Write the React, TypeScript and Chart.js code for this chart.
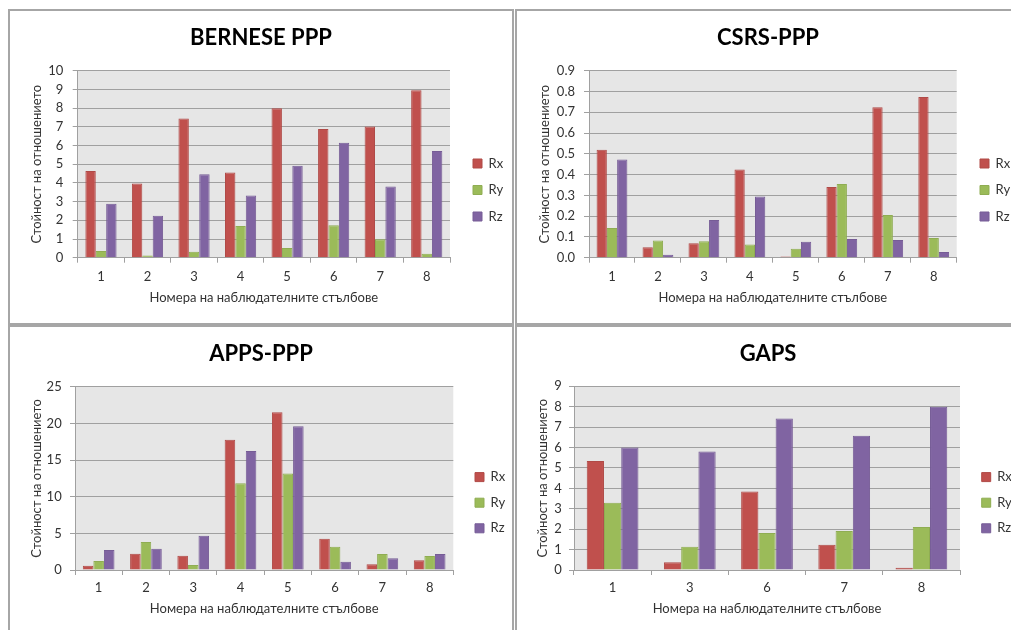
import React, { useEffect, useRef } from "react";
import { Chart, registerables } from "chart.js";
Chart.register(...registerables);

const FONT = "Lato, 'Open Sans', 'DejaVu Sans', sans-serif";

const seriesNames = ["Rx", "Ry", "Rz"];
const seriesColors = ["#C0504D", "#9BBB59", "#8064A2"];
const seriesBorders = ["#B04A47", "#8FAD52", "#765C96"];

const yAxisTitle = "Стойност на отношението";
const xAxisTitle = "Номера на наблюдателните стълбове";

// BERNESE PPP
const berneseLabels = ["1", "2", "3", "4", "5", "6", "7", "8"];
const berneseRx = [4.63, 3.97, 7.45, 4.56, 7.99, 6.88, 7.02, 8.95];
const berneseRy = [0.36, 0.12, 0.32, 1.69, 0.52, 1.73, 0.98, 0.21];
const berneseRz = [2.89, 2.25, 4.46, 3.33, 4.92, 6.15, 3.81, 5.7];

// CSRS-PPP
const csrsLabels = ["1", "2", "3", "4", "5", "6", "7", "8"];
const csrsRx = [0.52, 0.05, 0.07, 0.424, 0.006, 0.34, 0.724, 0.773];
const csrsRy = [0.143, 0.083, 0.079, 0.063, 0.043, 0.355, 0.205, 0.095];
const csrsRz = [0.473, 0.014, 0.181, 0.294, 0.077, 0.09, 0.085, 0.027];

// APPS-PPP
const appsLabels = ["1", "2", "3", "4", "5", "6", "7", "8"];
const appsRx = [0.59, 2.22, 1.95, 17.78, 21.5, 4.26, 0.77, 1.32];
const appsRy = [1.22, 3.81, 0.68, 11.84, 13.15, 3.17, 2.18, 1.9];
const appsRz = [2.72, 2.9, 4.67, 16.24, 19.6, 1.13, 1.59, 2.18];

// GAPS
const gapsLabels = ["1", "3", "6", "7", "8"];
const gapsRx = [5.34, 0.38, 3.84, 1.24, 0.11];
const gapsRy = [3.3, 1.14, 1.81, 1.91, 2.11];
const gapsRz = [6.0, 5.8, 7.42, 6.58, 8.0];

type Geo = {
  left: number; top: number; width: number; height: number; padL: number;
  plotLeft: number; plotRight: number; plotTop: number; plotBottom: number;
  titleY: number; yTitleX: number; yLabelRight: number; xTickY: number; xTitleY: number;
  legendX: number; legendMidY: number; legendStep: number;
};

type PanelProps = {
  g: Geo; title: string; labels: string[]; rx: number[]; ry: number[]; rz: number[];
  yMax: number; yStep: number; decimals: number;
};

function Panel({ g, title, labels, rx, ry, rz, yMax, yStep, decimals }: PanelProps) {
  const ref = useRef<HTMLCanvasElement>(null);
  useEffect(() => {
    const canvas = ref.current!;
    const FS = 13;
    const LH = FS * 1.2;
    const TS = 22;
    const TLH = TS * 1.2;
    const tPadTop = g.titleY - TLH / 2;
    const tPadBot = g.plotTop - tPadTop - TLH;
    const lgPad = g.legendStep - FS;
    const legendW = g.width - g.plotRight;
    const tickLen = 5;
    const plugin: any = {
      id: "panelFix",
      beforeLayout(chart: any) {
        const lg = chart.legend;
        if (lg && !lg.__patched) {
          const orig = lg.fit;
          lg.fit = function () {
            orig.call(this);
            this.width = legendW;
          };
          lg.__patched = true;
        }
      },
      afterLayout(chart: any) {
        const lg = chart.legend;
        if (!lg) return;
        const w = lg.width;
        const h = lg.height;
        lg.left = g.legendX - lgPad;
        lg.right = lg.left + w;
        const colH = lg.columnSizes && lg.columnSizes[0] ? lg.columnSizes[0].height : 3 * (FS + lgPad);
        const targetY0 = g.legendMidY - (FS + lgPad) - FS / 2;
        const top = (2 * targetY0 - lgPad + colH - h) / 2;
        lg.top = top;
        lg.bottom = top + h;
      },
      beforeDraw(chart: any) {
        const a = chart.chartArea;
        const ctx = chart.ctx;
        ctx.save();
        ctx.fillStyle = "#E6E6E6";
        ctx.fillRect(a.left, a.top, a.right - a.left, a.bottom - a.top);
        ctx.restore();
      },
    };
    const values = [rx, ry, rz];
    const chart = new Chart(canvas, {
      type: "bar",
      data: {
        labels,
        datasets: seriesNames.map((n, i) => ({
          label: n,
          data: values[i],
          backgroundColor: seriesColors[i],
          borderColor: seriesBorders[i],
          borderWidth: 1,
          categoryPercentage: 0.67,
          barPercentage: 1,
        })),
      },
      options: {
        animation: false,
        responsive: false,
        maintainAspectRatio: false,
        events: [],
        layout: { padding: { left: g.padL, right: 0, top: 0, bottom: 0 } },
        font: { family: FONT },
        plugins: {
          tooltip: { enabled: false },
          title: {
            display: true,
            text: title,
            color: "#000",
            font: { family: FONT, size: TS, weight: "bold" },
            padding: { top: tPadTop, bottom: tPadBot },
          },
          legend: {
            display: true,
            position: "right",
            labels: {
              boxWidth: 9,
              boxHeight: 9,
              padding: lgPad,
              color: "#333",
              font: { family: FONT, size: FS },
            },
          },
        },
        scales: {
          x: {
            grid: {
              display: true,
              drawOnChartArea: false,
              drawTicks: true,
              tickLength: tickLen,
              color: "#A0A0A0",
              offset: true,
            },
            border: { display: true, color: "#A0A0A0", width: 1 },
            ticks: {
              color: "#333",
              padding: g.xTickY - g.plotBottom - tickLen - LH / 2,
              font: { family: FONT, size: FS },
              maxRotation: 0,
            },
            title: {
              display: true,
              text: xAxisTitle,
              color: "#333",
              font: { family: FONT, size: FS },
              padding: { top: 0, bottom: g.height - g.xTitleY - LH / 2 },
            },
            afterFit: (s: any) => {
              s.height = g.height - g.plotBottom;
            },
          },
          y: {
            min: 0,
            max: yMax,
            grid: {
              display: true,
              drawTicks: true,
              tickLength: tickLen,
              color: "#A0A0A0",
              lineWidth: 1,
            },
            border: { display: true, color: "#A0A0A0", width: 1 },
            ticks: {
              stepSize: yStep,
              color: "#333",
              padding: g.plotLeft - tickLen - g.yLabelRight,
              font: { family: FONT, size: FS },
              callback: (v: any) => Number(v).toFixed(decimals),
            },
            title: {
              display: true,
              text: yAxisTitle,
              color: "#333",
              font: { family: FONT, size: FS },
              padding: { top: g.yTitleX - g.padL - LH / 2, bottom: 0 },
            },
            afterFit: (s: any) => {
              s.width = g.plotLeft - g.padL;
            },
          },
        },
      } as any,
      plugins: [plugin],
    });
    return () => chart.destroy();
  }, []);
  return (
    <canvas
      ref={ref}
      width={g.width}
      height={g.height}
      style={{ position: "absolute", left: g.left, top: g.top, width: g.width, height: g.height }}
    />
  );
}

const geoTL: Geo = {
  left: 10, top: 11, width: 502, height: 312, padL: 0,
  plotLeft: 67.7, plotRight: 440, plotTop: 59.7, plotBottom: 246.7,
  titleY: 26.5, yTitleX: 27, yLabelRight: 53.3, xTickY: 266, xTitleY: 287,
  legendX: 463, legendMidY: 179, legendStep: 26.5,
};
const geoTR: Geo = {
  left: 517, top: 11, width: 494, height: 312, padL: 8,
  plotLeft: 72, plotRight: 439.7, plotTop: 59.7, plotBottom: 246.7,
  titleY: 26.5, yTitleX: 28, yLabelRight: 58, xTickY: 266, xTitleY: 287,
  legendX: 463, legendMidY: 179, legendStep: 26.5,
};
const geoBL: Geo = {
  left: 10, top: 327, width: 502, height: 303, padL: 0,
  plotLeft: 65, plotRight: 443.3, plotTop: 59.7, plotBottom: 243,
  titleY: 27, yTitleX: 27, yLabelRight: 51.7, xTickY: 261, xTitleY: 282,
  legendX: 465, legendMidY: 175.7, legendStep: 25.6,
};
const geoBR: Geo = {
  left: 517, top: 327, width: 494, height: 303, padL: 8,
  plotLeft: 57, plotRight: 443, plotTop: 59.3, plotBottom: 243,
  titleY: 27, yTitleX: 26, yLabelRight: 44.7, xTickY: 261, xTitleY: 282,
  legendX: 464.7, legendMidY: 175.7, legendStep: 25.6,
};

const BORDER = "2px solid #A6A6A6";

export default function App() {
  return (
    <div
      style={{
        position: "fixed", left: 0, top: 0, width: 1011, height: 630,
        overflow: "hidden", background: "#fff",
      }}
    >
      <div style={{ position: "absolute", left: 8, top: 9, width: 506, height: 316, boxSizing: "border-box", border: BORDER }} />
      <div style={{ position: "absolute", left: 515, top: 9, width: 600, height: 316, boxSizing: "border-box", border: BORDER }} />
      <div style={{ position: "absolute", left: 8, top: 325, width: 506, height: 400, boxSizing: "border-box", border: BORDER }} />
      <div style={{ position: "absolute", left: 515, top: 325, width: 600, height: 400, boxSizing: "border-box", border: BORDER }} />
      <Panel g={geoTL} title="BERNESE PPP" labels={berneseLabels} rx={berneseRx} ry={berneseRy} rz={berneseRz} yMax={10} yStep={1} decimals={0} />
      <Panel g={geoTR} title="CSRS-PPP" labels={csrsLabels} rx={csrsRx} ry={csrsRy} rz={csrsRz} yMax={0.9} yStep={0.1} decimals={1} />
      <Panel g={geoBL} title="APPS-PPP" labels={appsLabels} rx={appsRx} ry={appsRy} rz={appsRz} yMax={25} yStep={5} decimals={0} />
      <Panel g={geoBR} title="GAPS" labels={gapsLabels} rx={gapsRx} ry={gapsRy} rz={gapsRz} yMax={9} yStep={1} decimals={0} />
    </div>
  );
}
